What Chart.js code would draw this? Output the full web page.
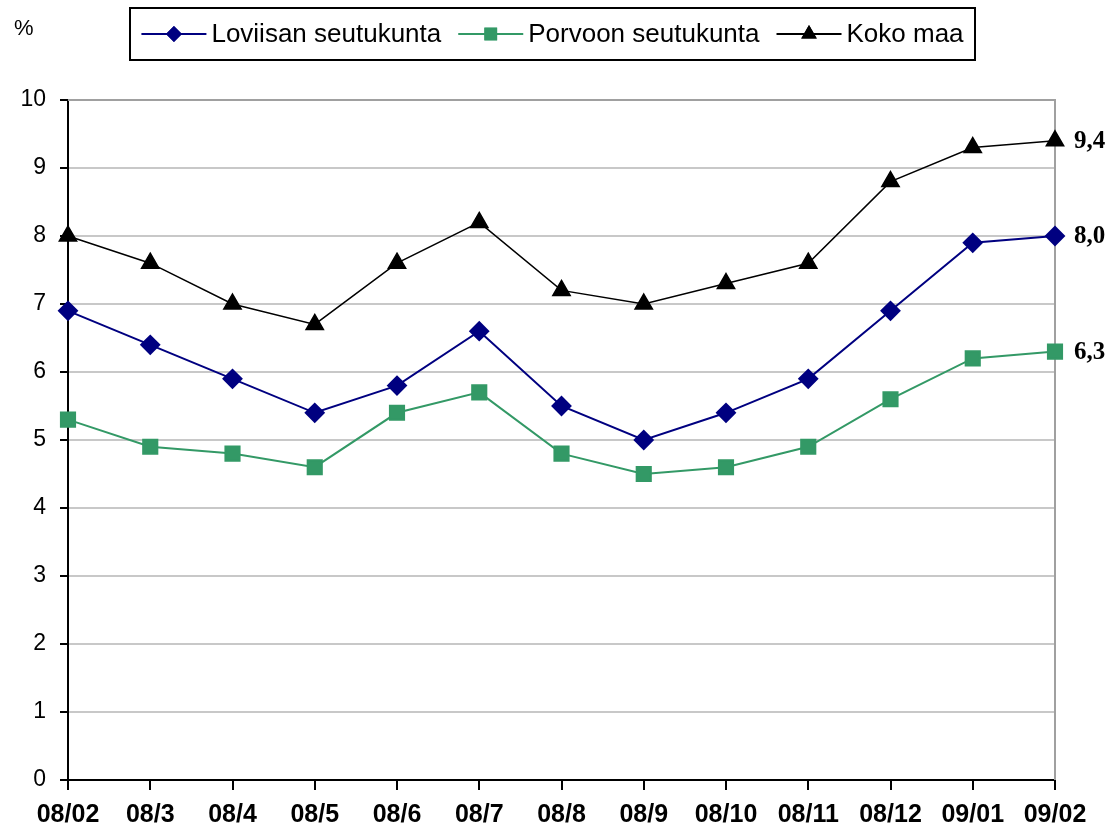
<!DOCTYPE html>
<html>
<head>
<meta charset="utf-8">
<script src="https://cdn.jsdelivr.net/npm/chart.js@4"></script>
<style>
  body { margin: 0; background: #fff; }
  canvas { display: block; }
</style>
</head>
<body>
<canvas id="myChart" width="1115" height="834"></canvas>
<script>
const months = ['08/02', '08/3', '08/4', '08/5', '08/6', '08/7', '08/8', '08/9', '08/10', '08/11', '08/12', '09/01', '09/02'];
const loviisa = [6.9, 6.4, 5.9, 5.4, 5.8, 6.6, 5.5, 5.0, 5.4, 5.9, 6.9, 7.9, 8.0];
const porvoo = [5.3, 4.9, 4.8, 4.6, 5.4, 5.7, 4.8, 4.5, 4.6, 4.9, 5.6, 6.2, 6.3];
const kokoMaa = [8.0, 7.6, 7.0, 6.7, 7.6, 8.2, 7.2, 7.0, 7.3, 7.6, 8.8, 9.3, 9.4];
const endLabels = ['8,0', '6,3', '9,4'];

const ctx = document.querySelector('#myChart').getContext('2d');
const font = '"Liberation Sans", Arial, sans-serif';

// top/right frame, legend box, % sign and end labels
const extras = {
  id: 'extras',
  beforeDatasetsDraw(chart) {
    const { ctx, chartArea: a } = chart;
    ctx.save();
    ctx.strokeStyle = '#a0a0a0';
    ctx.lineWidth = 2;
    ctx.beginPath();
    ctx.moveTo(a.left, a.top);
    ctx.lineTo(a.right, a.top);
    ctx.lineTo(a.right, a.bottom);
    ctx.stroke();
    ctx.restore();
  },
  afterDraw(chart) {
    const { ctx, chartArea: a } = chart;
    ctx.save();
    ctx.fillStyle = '#000';
    ctx.font = '22px ' + font;
    ctx.textBaseline = 'middle';
    ctx.fillText('%', 14, 29);

    // legend
    const box = { left: 130, top: 8, right: 975, bottom: 60 };
    ctx.strokeStyle = '#000';
    ctx.lineWidth = 2;
    ctx.strokeRect(box.left, box.top, box.right - box.left, box.bottom - box.top);
    ctx.font = '26px ' + font;
    const ds = chart.data.datasets;
    const lineW = 65, gap1 = 5, gap2 = 17;
    let total = 0;
    ds.forEach((d, i) => {
      total += lineW + gap1 + ctx.measureText(d.label).width + (i < ds.length - 1 ? gap2 : 0);
    });
    let x = (box.left + box.right) / 2 - total / 2;
    const y = (box.top + box.bottom) / 2;
    ds.forEach(d => {
      ctx.strokeStyle = d.borderColor;
      ctx.lineWidth = 2;
      ctx.beginPath();
      ctx.moveTo(x, y);
      ctx.lineTo(x + lineW, y);
      ctx.stroke();
      ctx.fillStyle = d.pointBackgroundColor;
      Chart.helpers.drawPoint(ctx, { pointStyle: d.pointStyle, radius: d.pointRadius - 1, rotation: 0 }, x + lineW / 2, y);
      ctx.fill();
      x += lineW + gap1;
      ctx.fillStyle = '#000';
      ctx.fillText(d.label, x, y + 1);
      x += ctx.measureText(d.label).width + gap2;
    });

    // end-of-line values
    ctx.font = 'bold 25px "Liberation Serif", "Times New Roman", serif';
    ds.forEach((d, i) => {
      const meta = chart.getDatasetMeta(i);
      const pt = meta.data[meta.data.length - 1];
      ctx.fillText(endLabels[i], a.right + 19, pt.y + 1);
    });
    ctx.restore();
  }
};

new Chart(ctx, {
  type: 'line',
  data: {
    labels: months,
    datasets: [{
      label: 'Loviisan seutukunta',
      data: loviisa,
      borderColor: '#000080',
      backgroundColor: '#000080',
      pointBackgroundColor: '#000080',
      pointBorderColor: '#000080',
      pointStyle: 'rectRot',
      pointRadius: 9,
      borderWidth: 2
    }, {
      label: 'Porvoon seutukunta',
      data: porvoo,
      borderColor: '#339966',
      backgroundColor: '#339966',
      pointBackgroundColor: '#339966',
      pointBorderColor: '#339966',
      pointStyle: 'rect',
      pointRadius: 10,
      borderWidth: 2
    }, {
      label: 'Koko maa',
      data: kokoMaa,
      borderColor: '#000000',
      backgroundColor: '#000000',
      pointBackgroundColor: '#000000',
      pointBorderColor: '#000000',
      pointStyle: 'triangle',
      pointRadius: 10,
      borderWidth: 1.5
    }]
  },
  options: {
    responsive: false,
    animation: false,
    devicePixelRatio: 1,
    layout: { padding: { top: 100, right: 60, left: 0, bottom: 0 } },
    plugins: {
      legend: { display: false },
      tooltip: { enabled: false }
    },
    scales: {
      x: {
        offset: false,
        grid: { drawOnChartArea: false, drawTicks: true, tickLength: 10, color: '#000', lineWidth: 2 },
        border: { color: '#000', width: 2 },
        ticks: { color: '#000', font: { family: font, size: 25, weight: 'bold' }, padding: 10, maxRotation: 0, autoSkip: false },
        afterFit(scale) { scale.height = 54; }
      },
      y: {
        min: 0,
        max: 10,
        grid: { color: '#c8c8c8', lineWidth: 2, tickColor: '#000', tickLength: 8 },
        border: { color: '#000', width: 2 },
        ticks: { stepSize: 1, color: '#000', font: { family: font, size: 23 }, padding: 14 },
        afterFit(scale) { scale.width = 68; }
      }
    }
  },
  plugins: [extras]
});
</script>
</body>
</html>
